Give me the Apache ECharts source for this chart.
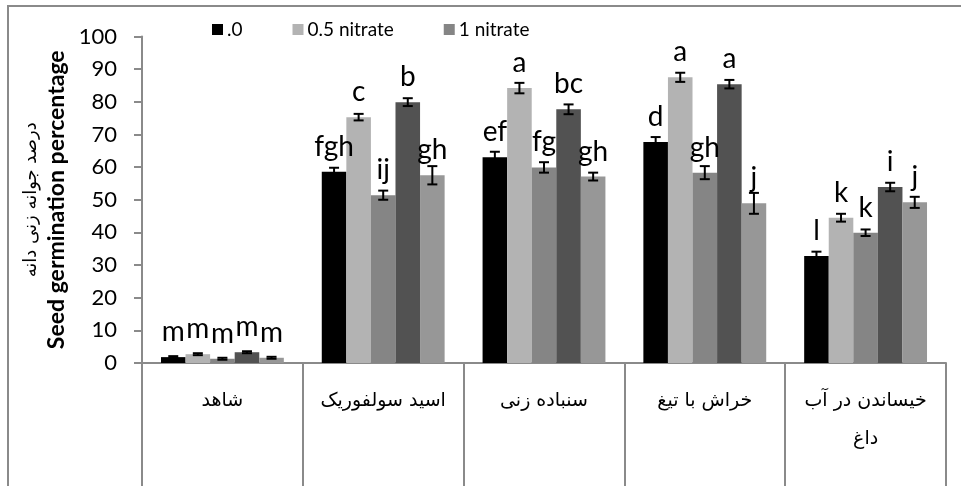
<!DOCTYPE html>
<html>
<head>
<meta charset="utf-8">
<script src="https://cdn.jsdelivr.net/npm/echarts@6/dist/echarts.min.js"></script>
<style>
  html, body { margin: 0; padding: 0; background: #fff; }
  #chart { width: 961px; height: 486px; }
</style>
</head>
<body>
<div id="chart"></div>
<script>
// Seed germination (%) by pre-treatment and nitrate level
const categories = ['شاهد', 'اسید سولفوریک', 'سنباده زنی', 'خراش با تیغ', 'خیساندن در آب\nداغ'];
const seriesNames = ['.0', '0.5 nitrate', '1 nitrate', '1.5 nitrate', '2 nitrate'];
const legendNames = ['.0', '0.5 nitrate', '1 nitrate'];
const yTicks = [0, 10, 20, 30, 40, 50, 60, 70, 80, 90, 100];

const values0 = [1.8, 58.6, 63.0, 67.7, 32.8];
const values1 = [2.7, 75.3, 84.2, 87.5, 44.5];
const values2 = [1.3, 51.4, 59.9, 58.3, 39.9];
const values3 = [3.3, 79.9, 77.7, 85.4, 53.9];
const values4 = [1.6, 57.5, 57.1, 48.9, 49.2];

const errors0 = [0.3, 1.2, 1.7, 1.5, 1.3];
const errors1 = [0.3, 1.0, 1.6, 1.4, 1.2];
const errors2 = [0.3, 1.4, 1.6, 2.0, 1.0];
const errors3 = [0.3, 1.2, 1.5, 1.3, 1.3];
const errors4 = [0.3, 2.8, 1.2, 3.2, 1.7];

const letters0 = ['m', 'fgh', 'ef', 'd', 'l'];
const letters1 = ['m', 'c', 'a', 'a', 'k'];
const letters2 = ['m', 'ij', 'fg', 'gh', 'k'];
const letters3 = ['m', 'b', 'bc', 'a', 'i'];
const letters4 = ['m', 'gh', 'gh', 'j', 'j'];

const allValues = [values0, values1, values2, values3, values4];
const allErrors = [errors0, errors1, errors2, errors3, errors4];
const allLetters = [letters0, letters1, letters2, letters3, letters4];
const colors = ['#000000', '#b3b3b3', '#858585', '#525252', '#979797'];

const GAP = 0.236;           // share of each category left empty between groups
const N = seriesNames.length;

const barSeries = allValues.map((vals, i) => ({
  name: seriesNames[i],
  type: 'bar',
  barGap: '0%',
  barCategoryGap: (GAP * 100) + '%',
  itemStyle: { color: colors[i] },
  data: vals,
  z: 2,
  label: {
    show: true,
    position: 'top',
    distance: 11,
    fontFamily: 'Lato',
    fontSize: 28,
    color: '#000',
    formatter: p => allLetters[i][p.dataIndex]
  }
}));

const errorSeries = allValues.map((vals, i) => ({
  name: seriesNames[i] + ' err',
  type: 'custom',
  z: 5,
  data: vals.map((v, k) => [k, v, allErrors[i][k]]),
  renderItem: function (params, api) {
    const k = api.value(0);
    const v = api.value(1);
    const e = api.value(2);
    const band = api.size([1, 0])[0];
    const bw = band * (1 - GAP) / N;
    const dx = (i - (N - 1) / 2) * bw;
    const hi = api.coord([k, v + e]);
    const lo = api.coord([k, v - e]);
    const x = hi[0] + dx;
    const cap = 5;
    const style = { stroke: '#000', lineWidth: 2 };
    return {
      type: 'group',
      children: [
        { type: 'line', shape: { x1: x, y1: hi[1], x2: x, y2: lo[1] }, style },
        { type: 'line', shape: { x1: x - cap, y1: hi[1], x2: x + cap, y2: hi[1] }, style },
        { type: 'line', shape: { x1: x - cap, y1: lo[1], x2: x + cap, y2: lo[1] }, style }
      ]
    };
  }
}));

const chart = echarts.init(document.getElementById('chart'), null, { renderer: 'canvas' });
chart.setOption({
  animation: false,
  backgroundColor: '#fff',
  graphic: [{
    type: 'rect',
    shape: { x: 8, y: 6, width: 1100, height: 900 },
    style: { fill: 'none', stroke: '#8a8a8a', lineWidth: 2 },
    silent: true
  }],
  legend: {
    data: legendNames,
    left: 207,
    top: 15,
    itemWidth: 11,
    itemHeight: 11,
    itemGap: 50,
    icon: 'rect',
    textStyle: { fontFamily: 'Lato', fontSize: 19, color: '#000', padding: [0, 0, 0, -1] }
  },
  grid: { left: 142, right: 15, top: 36.5, bottom: 123, containLabel: false },
  xAxis: {
    type: 'category',
    data: categories,
    axisLine: { lineStyle: { color: '#8a8a8a', width: 2 } },
    axisTick: { show: true, alignWithLabel: false, length: 130, lineStyle: { color: '#8a8a8a', width: 2 } },
    axisLabel: {
      margin: 19,
      interval: 0,
      fontFamily: 'DejaVu Sans',
      fontSize: 19,
      lineHeight: 38,
      color: '#000',
      verticalAlign: 'top'
    }
  },
  yAxis: {
    type: 'value',
    min: yTicks[0],
    max: yTicks[yTicks.length - 1],
    interval: 10,
    splitLine: { show: false },
    axisLine: { show: true, lineStyle: { color: '#8a8a8a', width: 2 } },
    axisTick: { show: true, length: 8, lineStyle: { color: '#8a8a8a', width: 2 } },
    axisLabel: { margin: 25, fontFamily: 'Lato', fontSize: 22, color: '#000' },
    name: '{fa|درصد جوانه زنی دانه}\n{en|Seed germination percentage}',
    nameLocation: 'middle',
    nameRotate: 90,
    nameGap: 62,
    nameTextStyle: {
      rich: {
        fa: { fontFamily: 'DejaVu Sans', fontSize: 18, color: '#000', lineHeight: 24 },
        en: { fontFamily: 'Lato', fontWeight: 'bold', fontSize: 23, color: '#000', lineHeight: 26 }
      }
    }
  },
  series: barSeries.concat(errorSeries)
});
</script>
</body>
</html>
